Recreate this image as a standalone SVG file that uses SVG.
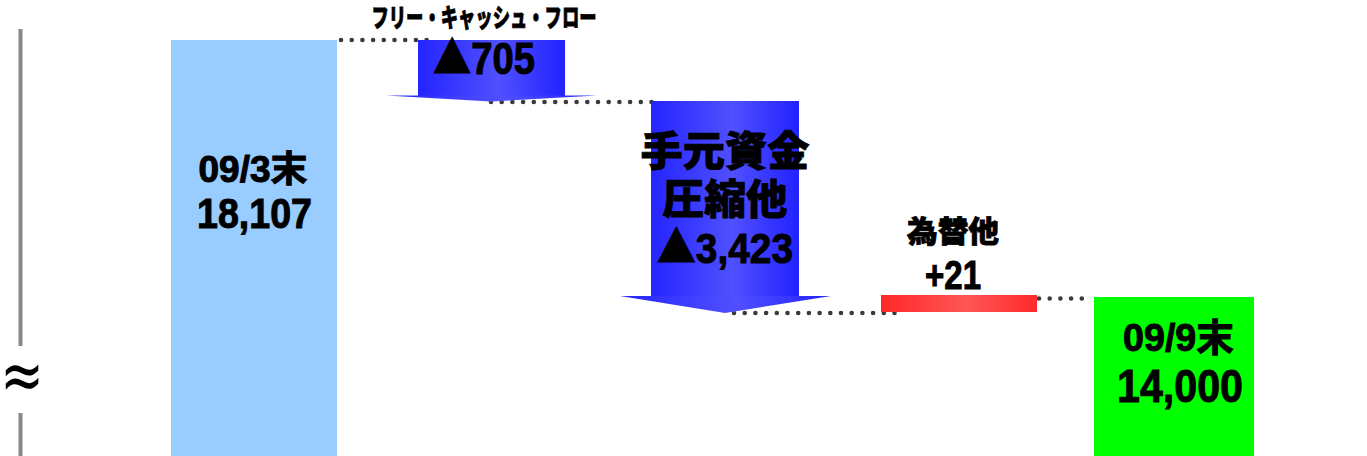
<svg xmlns="http://www.w3.org/2000/svg" width="1367" height="456" viewBox="0 0 1367 456">
<defs>
<linearGradient id="blueG" x1="0" y1="0" x2="1" y2="0">
<stop offset="0" stop-color="#2424ff"/>
<stop offset="0.55" stop-color="#5050ff"/>
<stop offset="1" stop-color="#2222ff"/>
</linearGradient>
<linearGradient id="redG" x1="0" y1="0" x2="1" y2="0">
<stop offset="0" stop-color="#ff2828"/>
<stop offset="0.55" stop-color="#ff5656"/>
<stop offset="1" stop-color="#ff2a2a"/>
</linearGradient>
<linearGradient id="redFade" x1="0" y1="0" x2="1" y2="0">
<stop offset="0" stop-color="#ff9a9a" stop-opacity="0"/>
<stop offset="1" stop-color="#ff6060" stop-opacity="1"/>
</linearGradient>
</defs>
<style>
.dots{stroke:#3a3a3a;stroke-width:4.6;stroke-linecap:round;stroke-dasharray:0 10.7;fill:none}
.t{font-family:"Liberation Sans","Noto Sans CJK JP",sans-serif;font-weight:bold;fill:#000;stroke:#000;stroke-width:1;text-anchor:middle}
.j{font-family:"Noto Sans CJK JP",sans-serif;font-weight:900;fill:#000;stroke:#000;stroke-width:0.8;text-anchor:middle}
.tri{font-family:"Noto Sans CJK JP",sans-serif}
</style>
<rect width="1367" height="456" fill="#fff"/>

<g id="axis">
<rect x="18.5" y="29" width="4" height="317" fill="#888"/>
<rect x="18.5" y="413" width="4" height="43" fill="#888"/>
<text x="0" y="0" font-family="DejaVu Sans,sans-serif" font-size="52" text-anchor="middle" fill="#000" transform="translate(22,399) scale(1,1.35)">≈</text>
</g>

<g id="connectors">
<line class="dots" x1="341" y1="40" x2="427" y2="40"/>
<line class="dots" x1="491" y1="102" x2="652" y2="102"/>
<line class="dots" x1="734" y1="313" x2="896" y2="313"/>
<line class="dots" x1="1039" y1="298.5" x2="1092" y2="298.5"/>
</g>

<g id="start">
<rect x="171" y="40" width="166" height="416" fill="#99ccff"/>
<text class="t" x="253" y="182" font-size="36" textLength="109" lengthAdjust="spacingAndGlyphs">09/3末</text>
<text class="t" x="254.5" y="228" font-size="43" textLength="115" lengthAdjust="spacingAndGlyphs">18,107</text>
</g>

<g id="fcf">
<rect x="418" y="40" width="147" height="56" fill="url(#blueG)"/>
<polygon points="386,95.5 597,95.5 491,101.5" fill="url(#blueG)"/>
<text class="j" x="484" y="27" font-size="26" textLength="225" lengthAdjust="spacingAndGlyphs">フリー・キャッシュ・フロー</text>
<text class="t" x="484" y="74" font-size="44" textLength="102" lengthAdjust="spacingAndGlyphs"><tspan class="tri">▲</tspan>705</text>
</g>

<g id="wc">
<rect x="651" y="101" width="148" height="196" fill="url(#blueG)"/>
<polygon points="620,296 831,296 725,313" fill="url(#blueG)"/>
<text class="j" x="725" y="166" font-size="41" textLength="169" lengthAdjust="spacingAndGlyphs">手元資金</text>
<text class="j" x="725" y="214" font-size="41" textLength="125" lengthAdjust="spacingAndGlyphs">圧縮他</text>
<text class="t" x="725" y="263" font-size="43" textLength="136" lengthAdjust="spacingAndGlyphs"><tspan class="tri">▲</tspan>3,423</text>
</g>

<g id="fx">
<line x1="848" y1="295.5" x2="882" y2="295.5" stroke="url(#redFade)" stroke-width="1.5"/>
<rect x="881" y="295" width="156" height="17" fill="url(#redG)"/>
<text class="j" x="953" y="242" font-size="30" textLength="92" lengthAdjust="spacingAndGlyphs">為替他</text>
<text class="t" x="953" y="289" font-size="40" textLength="56" lengthAdjust="spacingAndGlyphs">+21</text>
</g>

<g id="end">
<rect x="1094" y="297" width="160" height="159" fill="#00ff00"/>
<text class="t" x="1178.5" y="351" font-size="38" textLength="111" lengthAdjust="spacingAndGlyphs">09/9末</text>
<text class="t" x="1180" y="402" font-size="47" textLength="126" lengthAdjust="spacingAndGlyphs">14,000</text>
</g>
</svg>
